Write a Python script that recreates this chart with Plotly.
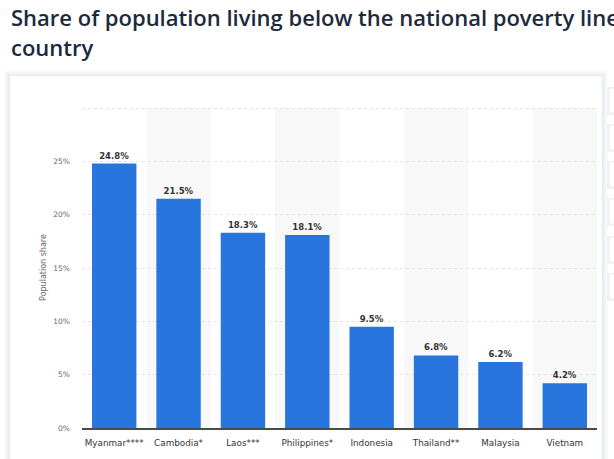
import plotly.graph_objects as go

# ---DATA---
countries = ['Myanmar****', 'Cambodia*', 'Laos***', 'Philippines*',
             'Indonesia', 'Thailand**', 'Malaysia', 'Vietnam']
poverty_share = [24.8, 21.5, 18.3, 18.1, 9.5, 6.8, 6.2, 4.2]
y_ticks = [0, 5, 10, 15, 20, 25, 30]
y_tick_labels = ['0%', '5%', '10%', '15%', '20%', '25%', '']

W, H = 614, 459
L, R, T, B = 82, 17, 107, 31
PW, PH = W - L - R, H - T - B

# pixel -> paper coords (paper is the plot area in plotly)
def px_x(v):
    return (v - L) / PW

def px_y(v):
    return (H - B - v) / PH

fig = go.Figure()

fig.add_trace(go.Bar(
    x=countries,
    y=poverty_share,
    marker_color='#2876DD',
    marker_line_width=0,
    text=[f'{v}%' for v in poverty_share],
    textposition='outside',
    cliponaxis=False,
    textfont=dict(family='DejaVu Sans', size=8.5, color='#333333', weight='bold'),
    hoverinfo='skip'))

# ---STYLE---
fig.update_layout(
    width=W, height=H,
    margin=dict(l=L, r=R, t=T, b=B),
    paper_bgcolor='#ffffff',
    plot_bgcolor='rgba(0,0,0,0)',
    bargap=0.31,
    showlegend=False)

fig.update_xaxes(
    showgrid=False,
    showline=True, linecolor='#4a4a4a', linewidth=1.5,
    ticks='', ticklabelstandoff=6,
    tickfont=dict(family='DejaVu Sans', size=8.8, color='#333333'))

# range a hair above 30 so the top gridline is still drawn
fig.update_yaxes(
    range=[0, 30.1],
    tickvals=y_ticks, ticktext=y_tick_labels,
    showgrid=True, gridcolor='#e4e4e4', gridwidth=1, griddash='dot',
    zeroline=False, ticks='', ticklabelstandoff=11,
    tickfont=dict(family='DejaVu Sans', size=7.5, color='#666666'),
    title=dict(text='Population share', standoff=5,
               font=dict(family='DejaVu Sans', size=8, color='#666666')))

shapes = []
# card shadow and card
for i, op in enumerate([0.025, 0.035, 0.05]):
    d = 6 - 2 * i
    shapes.append(dict(type='rect', xref='paper', yref='paper', layer='below',
                       x0=px_x(10 - d), x1=px_x(602 + d),
                       y0=px_y(470), y1=px_y(76 - d),
                       line_width=0, fillcolor=f'rgba(60,70,90,{op})'))
shapes.append(dict(type='rect', xref='paper', yref='paper', layer='below',
                   x0=px_x(10), x1=px_x(602), y0=px_y(470), y1=px_y(76),
                   line=dict(color='#eef0f3', width=1), fillcolor='#ffffff'))

# alternating column bands
for i in range(1, len(countries), 2):
    shapes.append(dict(type='rect', xref='x', yref='y', layer='below',
                       x0=i - 0.5, x1=i + 0.5, y0=0, y1=30,
                       line_width=0, fillcolor='#f8f8f8'))

# side buttons cut off on the right
for top in [88, 125, 162, 199, 237, 274]:
    shapes.append(dict(type='rect', xref='paper', yref='paper',
                       x0=px_x(607), x1=px_x(630), y0=px_y(top + 27), y1=px_y(top - 1),
                       line_width=0, fillcolor='rgba(60,70,90,0.06)'))
    shapes.append(dict(type='rect', xref='paper', yref='paper',
                       x0=px_x(609), x1=px_x(630), y0=px_y(top + 25), y1=px_y(top),
                       line=dict(color='#eceef2', width=1), fillcolor='#ffffff'))

fig.update_layout(shapes=shapes)

# ---TITLE---
title_font = dict(family='Open Sans', size=22, color='#1b2a3c', weight=600)
fig.add_annotation(xref='paper', yref='paper', x=px_x(9), y=px_y(17),
                   xanchor='left', yanchor='middle', showarrow=False,
                   text='Share of population living below the national poverty line by',
                   font=title_font)
fig.add_annotation(xref='paper', yref='paper', x=px_x(9), y=px_y(47),
                   xanchor='left', yanchor='middle', showarrow=False,
                   text='country', font=title_font)

# drop the default page margin so the figure sits at the window's corner
fig.write_html('out.html', config={'displayModeBar': False},
               post_script="document.body.style.margin='0';")
